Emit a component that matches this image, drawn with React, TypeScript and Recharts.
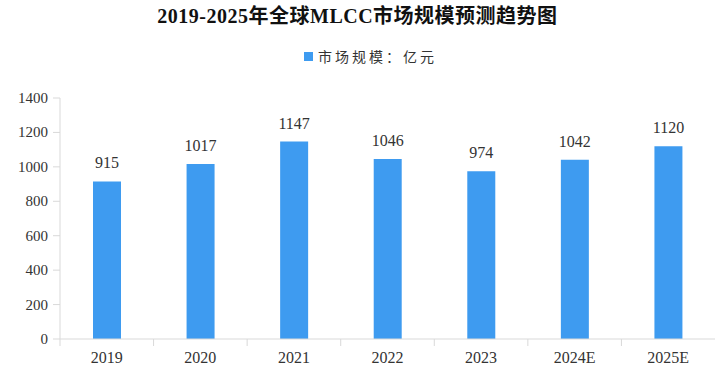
import React from "react";
import { BarChart, Bar, XAxis, YAxis, LabelList } from "recharts";

const years = ["2019", "2020", "2021", "2022", "2023", "2024E", "2025E"];
const marketSize = [915, 1017, 1147, 1046, 974, 1042, 1120];
const yTicks = [0, 200, 400, 600, 800, 1000, 1200, 1400];

const data = years.map((year, i) => ({ year, value: marketSize[i] }));

const numFont = "'Liberation Serif', 'DejaVu Serif', serif";
const cjkFont = "'Liberation Serif', 'Noto Sans CJK SC', serif";
const axisColor = "#d9d9d9";
const barColor = "#3e9bf0";

const PLOT_LEFT = 60;
const PLOT_RIGHT = 715;

const XTick = (props: any) => {
  const { x, y, payload } = props;
  const band = (PLOT_RIGHT - PLOT_LEFT) / years.length;
  const left = x - band / 2;
  return (
    <g>
      <line x1={left} y1={y - 8} x2={left} y2={y - 1} stroke={axisColor} />
      <text
        x={x}
        y={y + 16}
        textAnchor="middle"
        fontFamily={numFont}
        fontSize={16}
        fill="#333"
      >
        {payload.value}
      </text>
    </g>
  );
};

const YTick = (props: any) => {
  const { x, y, payload } = props;
  return (
    <text
      x={x}
      y={y + 5}
      textAnchor="end"
      fontFamily={numFont}
      fontSize={15}
      fill="#333"
    >
      {payload.value}
    </text>
  );
};

const App = () => {
  return (
    <div
      style={{
        position: "absolute",
        left: 0,
        top: 0,
        width: 715,
        height: 376,
        background: "#fff",
      }}
    >
      <div
        style={{
          position: "absolute",
          top: 0,
          left: 0,
          width: 715,
          textAlign: "center",
          fontFamily: cjkFont,
          fontWeight: "bold",
          fontSize: 20,
          letterSpacing: 0.5,
          color: "#111",
        }}
      >
        2019-2025年全球MLCC市场规模预测趋势图
      </div>
      <div
        style={{
          position: "absolute",
          top: 46,
          left: 0,
          width: 715,
          paddingLeft: 26,
          boxSizing: "border-box",
          display: "flex",
          justifyContent: "center",
          alignItems: "center",
          fontFamily: cjkFont,
          fontSize: 14,
          letterSpacing: 3,
          color: "#333",
        }}
      >
        <span
          style={{
            display: "inline-block",
            width: 9,
            height: 9,
            background: barColor,
            marginRight: 5,
          }}
        />
        市场规模：亿元
      </div>
      <BarChart
        width={715}
        height={376}
        data={data}
        margin={{ top: 98, right: 715 - PLOT_RIGHT, left: 0, bottom: 7 }}
        barSize={28}
      >
        <XAxis
          dataKey="year"
          height={30}
          axisLine={{ stroke: axisColor }}
          tickLine={false}
          tick={<XTick />}
          interval={0}
        />
        <YAxis
          width={PLOT_LEFT}
          domain={[0, 1400]}
          ticks={yTicks}
          interval={0}
          axisLine={{ stroke: axisColor }}
          tickLine={{ stroke: axisColor }}
          tickSize={7}
          tickMargin={5}
          tick={<YTick />}
        />
        <Bar dataKey="value" fill={barColor} isAnimationActive={false}>
          <LabelList
            dataKey="value"
            position="top"
            offset={13}
            style={{ fontFamily: numFont, fontSize: 16, fill: "#333" }}
          />
        </Bar>
      </BarChart>
    </div>
  );
};

export default App;
